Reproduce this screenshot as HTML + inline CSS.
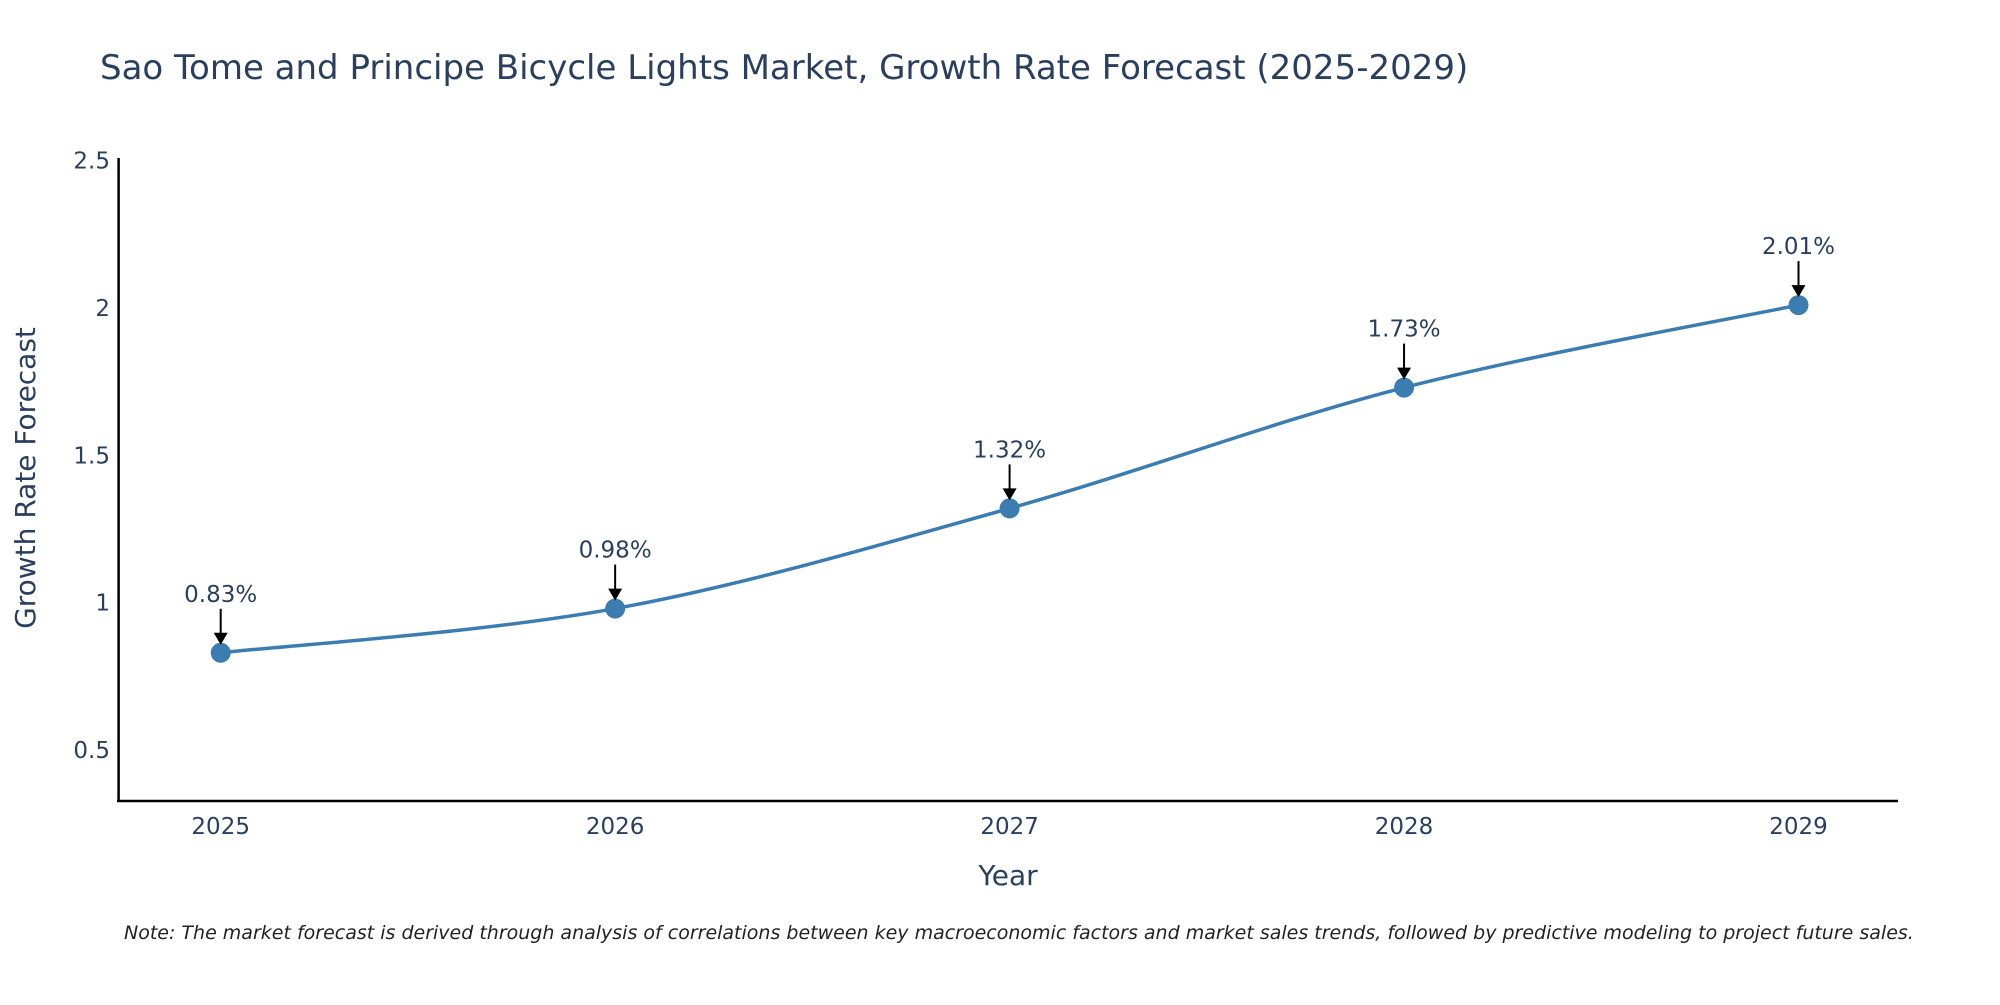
<!DOCTYPE html>
<html><head><meta charset="utf-8"><style>
body{margin:0;background:#fff;}
svg text{font-family:"DejaVu Sans","Liberation Sans",sans-serif;fill:#2a3f5f;}
</style></head><body>
<svg width="2000" height="1000" viewBox="0 0 2000 1000" xmlns="http://www.w3.org/2000/svg">
<text x="100" y="79" font-size="34">Sao Tome and Principe Bicycle Lights Market, Growth Rate Forecast (2025-2029)</text>
<g id="axes"></g>
<g id="plot"></g>
<text x="1008" y="885" font-size="28" text-anchor="middle">Year</text>
<text transform="translate(35,478) rotate(-90)" font-size="28" text-anchor="middle">Growth Rate Forecast</text>
<text x="124" y="939" font-size="19" font-style="italic" style="fill:#222">Note: The market forecast is derived through analysis of correlations between key macroeconomic factors and market sales trends, followed by predictive modeling to project future sales.</text>
</svg>
<script>
const years=[2025,2026,2027,2028,2029];
const values=[0.83,0.98,1.32,1.73,2.01];
const labels=["0.83%","0.98%","1.32%","1.73%","2.01%"];
const yTicks=[0.5,1,1.5,2,2.5];
const yTickLabels=["0.5","1","1.5","2","2.5"];
const NS="http://www.w3.org/2000/svg";
function X(v){return 220.7+(v-2025)*(1798.5-220.7)/4;}
function Y(v){return 750-(v-0.5)*(750-160.7)/2;}
function mk(t,a,p){const e=document.createElementNS(NS,t);for(const k in a)e.setAttribute(k,a[k]);p.appendChild(e);return e;}
const ax=document.getElementById('axes'),pl=document.getElementById('plot');
const yl=mk('line',{x1:118.6,y1:158,x2:118.6,y2:802,stroke:'#000','stroke-width':2.5},ax);


const xl=mk('line',{x1:117,y1:801,x2:1898,y2:801,stroke:'#000','stroke-width':2.5},ax);


yTicks.forEach((t,i)=>{const e=mk('text',{x:110,y:Y(t)+8,'font-size':23,'text-anchor':'end'},ax);e.textContent=yTickLabels[i];

});
years.forEach(y=>{const e=mk('text',{x:X(y),y:834,'font-size':23,'text-anchor':'middle'},ax);e.textContent=y;

});
const pts=years.map((y,i)=>[X(y),Y(values[i])]);
let d=`M${pts[0][0]},${pts[0][1]}`;
for(let i=0;i<pts.length-1;i++){const p0=pts[i-1]||pts[i],p1=pts[i],p2=pts[i+1],p3=pts[i+2]||p2;const s=6;
d+=` C${p1[0]+(p2[0]-p0[0])/s},${p1[1]+(p2[1]-p0[1])/s} ${p2[0]-(p3[0]-p1[0])/s},${p2[1]-(p3[1]-p1[1])/s} ${p2[0]},${p2[1]}`;}
const ln=mk('path',{d:d,fill:'none',stroke:'#3b7db0','stroke-width':3.5},pl);


pts.forEach((p,i)=>{
const c=mk('circle',{cx:p[0],cy:p[1],r:10,fill:'#3b7db0'},pl);


const a=mk('line',{x1:p[0],y1:p[1]-44,x2:p[0],y2:p[1]-18,stroke:'#000','stroke-width':2},pl);


const h=mk('polygon',{points:`${p[0]-7},${p[1]-20} ${p[0]+7},${p[1]-20} ${p[0]},${p[1]-8}`,fill:'#000'},pl);


const t=mk('text',{x:p[0],y:p[1]-51,'font-size':23,'text-anchor':'middle'},pl);t.textContent=labels[i];


});
</script>
</body></html>
